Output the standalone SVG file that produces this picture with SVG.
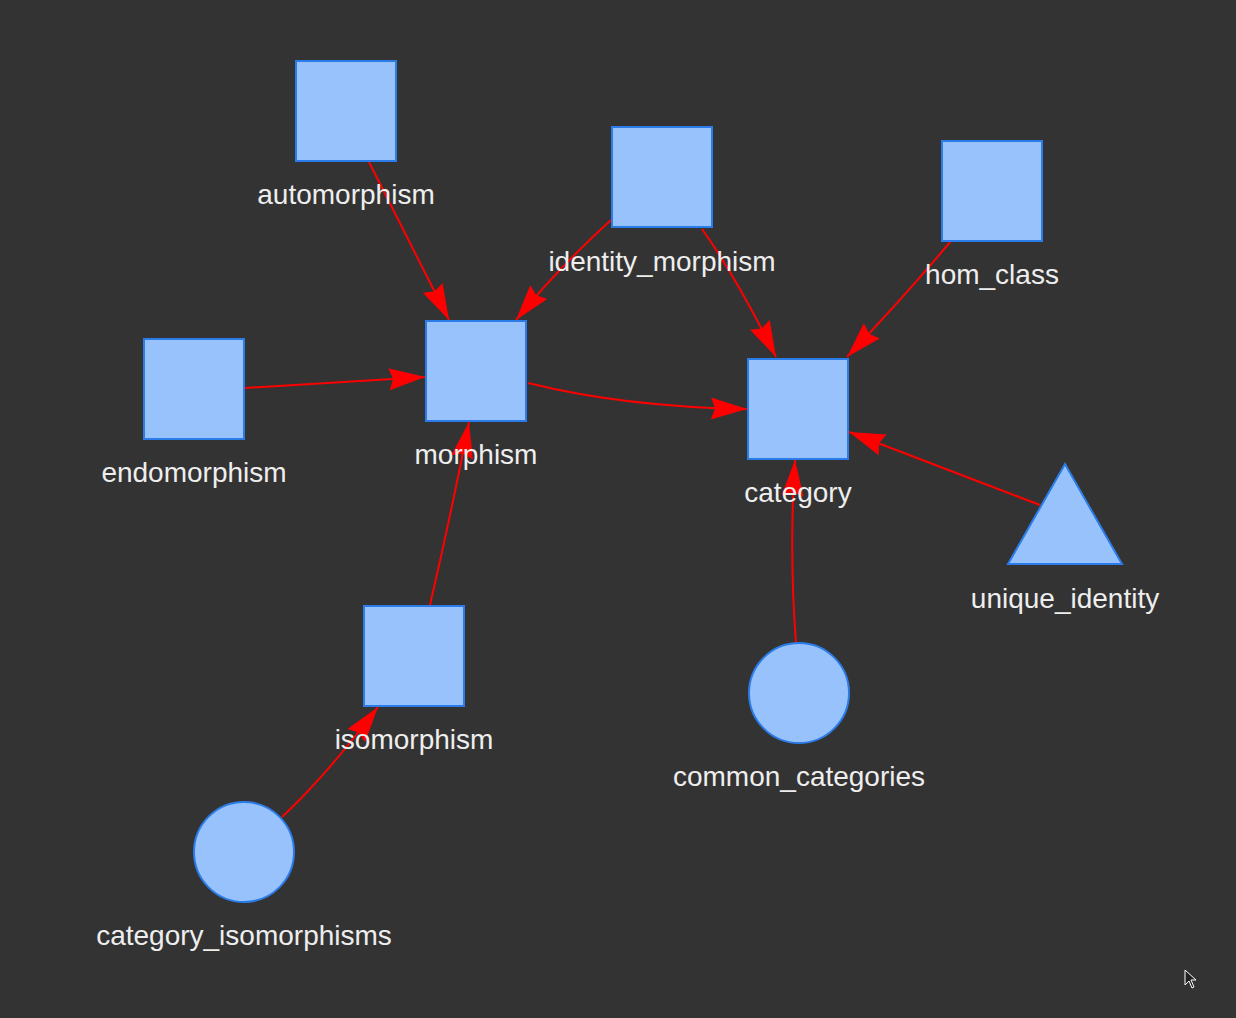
<svg xmlns="http://www.w3.org/2000/svg" width="1236" height="1018" viewBox="0 0 1236 1018">
<style>
.n{fill:#97c2fc;stroke:#2b7ce9;stroke-width:2}
.l{font-family:"Liberation Sans",Arial,sans-serif;font-size:28px;fill:#eeeeee;text-anchor:middle}
.e{fill:none;stroke:#ff0000;stroke-width:2}
</style>
<defs>
<marker id="a" markerUnits="userSpaceOnUse" viewBox="-37 -12 38 24" refX="0" refY="0" markerWidth="38" markerHeight="24" orient="auto">
<path d="M0,0 L-36,-11 L-32,0 L-36,11 Z" fill="#ff0000"/>
</marker>
</defs>
<rect width="1236" height="1018" fill="#333333"/>
<g id="edges">
<path class="e" marker-end="url(#a)" d="M369,162 L449,320"/>
<path class="e" marker-end="url(#a)" d="M611,220 Q560,266 516,320"/>
<path class="e" marker-end="url(#a)" d="M702,229 Q735,275 776,357"/>
<path class="e" marker-end="url(#a)" d="M951,241 Q905,296 847,357"/>
<path class="e" marker-end="url(#a)" d="M245,388 L425,377"/>
<path class="e" marker-end="url(#a)" d="M528,383 Q625,407 747,409"/>
<path class="e" marker-end="url(#a)" d="M1040,505 L849,432"/>
<path class="e" marker-end="url(#a)" d="M796,643 Q789,551 795,460"/>
<path class="e" marker-end="url(#a)" d="M430,605 Q452,510 469,422"/>
<path class="e" marker-end="url(#a)" d="M282,817 Q325,777 378,707"/>
</g>
<g id="automorphism"><rect class="n" x="296" y="61" width="100" height="100"/><text class="l" x="346" y="204">automorphism</text></g>
<g id="identity_morphism"><rect class="n" x="612" y="127" width="100" height="100"/><text class="l" x="662" y="271">identity_morphism</text></g>
<g id="hom_class"><rect class="n" x="942" y="141" width="100" height="100"/><text class="l" x="992" y="284">hom_class</text></g>
<g id="endomorphism"><rect class="n" x="144" y="339" width="100" height="100"/><text class="l" x="194" y="482">endomorphism</text></g>
<g id="morphism"><rect class="n" x="426" y="321" width="100" height="100"/><text class="l" x="476" y="464">morphism</text></g>
<g id="category"><rect class="n" x="748" y="359" width="100" height="100"/><text class="l" x="798" y="502">category</text></g>
<g id="unique_identity"><polygon class="n" points="1065,464 1122,564 1008,564"/><text class="l" x="1065" y="608">unique_identity</text></g>
<g id="isomorphism"><rect class="n" x="364" y="606" width="100" height="100"/><text class="l" x="414" y="749">isomorphism</text></g>
<g id="common_categories"><circle class="n" cx="799" cy="693" r="50"/><text class="l" x="799" y="786">common_categories</text></g>
<g id="category_isomorphisms"><circle class="n" cx="244" cy="852" r="50"/><text class="l" x="244" y="945">category_isomorphisms</text></g>
<path d="M1185,970 L1185,985 L1189,981 L1192,988 L1194,987 L1191,980 L1196,980 Z" fill="#222222" stroke="#ffffff" stroke-width="1"/>
</svg>
